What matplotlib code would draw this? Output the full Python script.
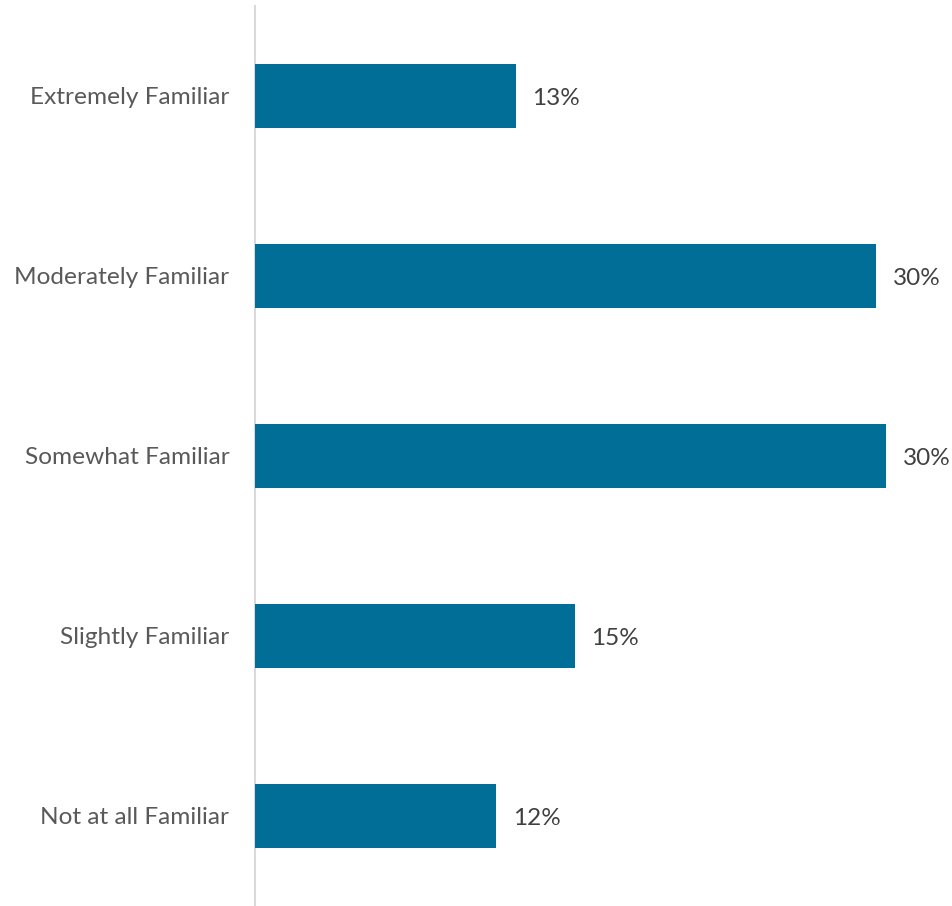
import matplotlib
matplotlib.use("Agg")
import matplotlib.pyplot as plt

categories = ["Extremely Familiar", "Moderately Familiar", "Somewhat Familiar",
              "Slightly Familiar", "Not at all Familiar"]
values = [12.55, 29.9, 30.4, 15.4, 11.6]

bar_color = "#006e96"
plt.rcParams["font.family"] = ["Lato", "DejaVu Sans"]

fig = plt.figure(figsize=(9.52, 9.06), dpi=100)
ax = fig.add_axes([255 / 952, 0, (952 - 255) / 952, 900 / 906])

y = list(range(len(categories)))
ax.barh(y, values, height=0.356, color=bar_color, zorder=3)
ax.set_ylim(len(categories) - 0.5, -0.5)
ax.set_xlim(0, (952 - 255) / 20.77)

for yi, v in zip(y, values):
    ax.text(v + 0.8, yi + 0.014, f"{v:.0f}%", va="center", ha="left",
            fontsize=17.5, color="#404040")

ax.set_yticks(y)
ax.set_yticklabels(categories, fontsize=17.6, color="#595959")
ax.tick_params(axis="y", length=0, pad=18.5)
ax.set_xticks([])
for side in ("top", "right", "bottom"):
    ax.spines[side].set_visible(False)
ax.spines["left"].set_color("#d9d9d9")
ax.spines["left"].set_linewidth(1.5)

fig.savefig("out.png", dpi=100, facecolor="white")
